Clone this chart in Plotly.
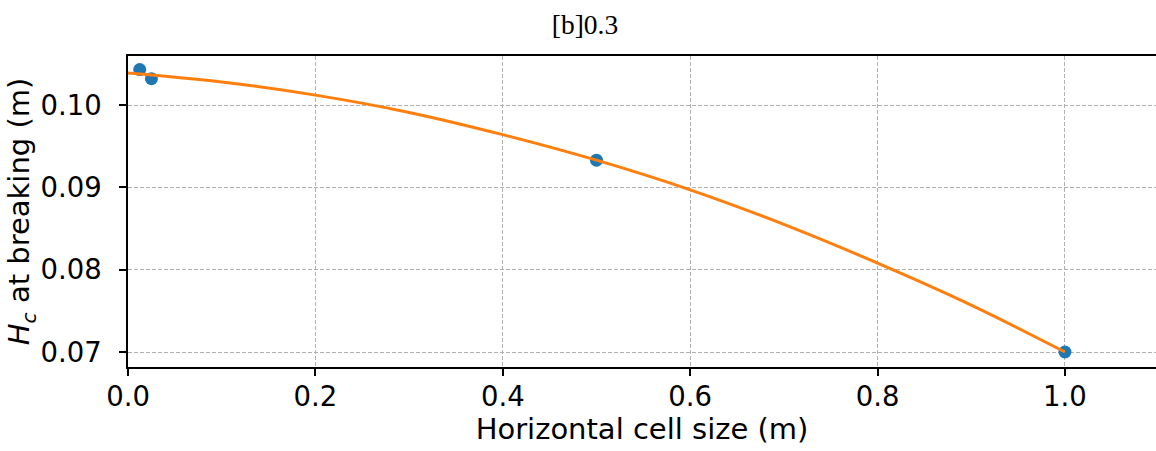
import plotly.graph_objects as go

# Measured points
cell_size = [0.0125, 0.025, 0.5, 1.0]
hc_breaking = [0.1043, 0.1032, 0.0933, 0.0700]

# Fitted curve
fit_x = [0.0, 0.1, 0.2, 0.3, 0.4, 0.5, 0.6, 0.7, 0.8, 0.9, 1.0]
fit_y = [0.1039, 0.1028, 0.1012, 0.0991, 0.0964, 0.0933, 0.0897, 0.0855, 0.0808, 0.0757, 0.0700]

x_ticks = [0.0, 0.2, 0.4, 0.6, 0.8, 1.0]
x_ticktext = ["0.0", "0.2", "0.4", "0.6", "0.8", "1.0"]
y_ticks = [0.07, 0.08, 0.09, 0.10]
y_ticktext = ["0.07", "0.08", "0.09", "0.10"]

fig = go.Figure()
fig.add_trace(go.Scatter(x=cell_size, y=hc_breaking, mode="markers",
                         marker=dict(color="#1f77b4", size=13, line=dict(width=0)),
                         showlegend=False))
fig.add_trace(go.Scatter(x=fit_x, y=fit_y, mode="lines",
                         line=dict(color="#ff7f0e", width=3, shape="spline"),
                         showlegend=False))

font = "DejaVu Sans"
fig.update_layout(
    width=1156, height=451,
    margin=dict(l=128, r=0, t=56, b=84),
    paper_bgcolor="white", plot_bgcolor="white",
    title=dict(text="[b]0.3", x=585 / 1156, xanchor="center",
               y=1 - 24 / 451, yanchor="middle", yref="container",
               font=dict(family="Liberation Serif", size=27.5, color="black")),
    font=dict(family=font, size=27.5, color="black"),
)
fig.update_xaxes(
    range=[0, 1.0972], tickvals=x_ticks, ticktext=x_ticktext,
    showline=True, linecolor="black", linewidth=1.5, mirror=True,
    ticks="outside", ticklen=7, tickwidth=1.5, tickcolor="black",
    showgrid=True, gridcolor="#b0b0b0", griddash="4px,2px", gridwidth=1,
    zeroline=False, ticklabelstandoff=-3,
    tickfont=dict(family=font, size=27.5),
    title=dict(text="Horizontal cell size (m)", font=dict(family=font, size=29), standoff=6),
)
fig.update_yaxes(
    range=[0.068178, 0.105952], tickvals=y_ticks, ticktext=y_ticktext,
    showline=True, linecolor="black", linewidth=1.5, mirror=False,
    ticks="outside", ticklen=7, tickwidth=1.5, tickcolor="black",
    showgrid=True, gridcolor="#b0b0b0", griddash="4px,2px", gridwidth=1,
    zeroline=False, ticklabelstandoff=12,
    tickfont=dict(family=font, size=27.5),
    title=dict(text="<i>H</i><sub><i>c</i></sub> at breaking (m)", font=dict(family=font, size=29), standoff=1),
)

fig.write_html("out.html", config={"displayModeBar": False},
               post_script="document.body.style.margin='0';document.body.style.overflow='hidden';")
